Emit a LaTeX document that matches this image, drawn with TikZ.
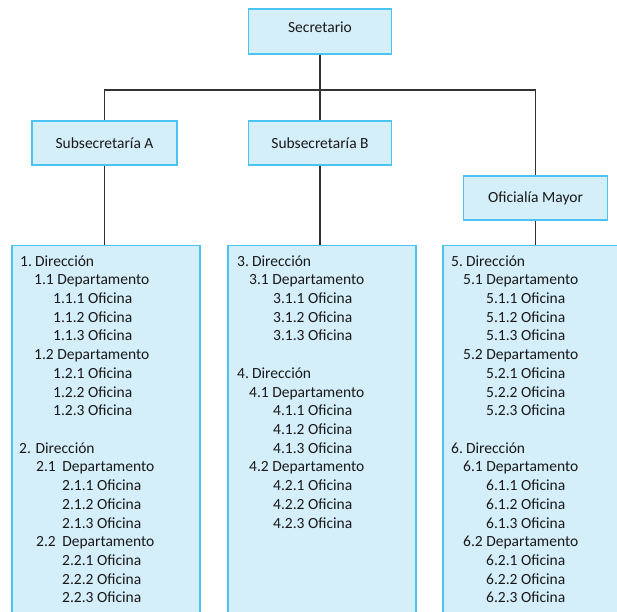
\documentclass[tikz,border=0pt]{standalone}
\usepackage{fontspec}
\setmainfont{Carlito}
\definecolor{boxfill}{HTML}{D4EEFA}
\definecolor{boxline}{HTML}{4CC3F1}
\definecolor{conn}{HTML}{333333}
\tikzset{
  unitbox/.style={draw=boxline, fill=boxfill, line width=1.3pt, inner sep=0pt,
    font=\fontsize{15.5}{18.72}\selectfont, text=black!90},
  bigbox/.style={draw=boxline, fill=boxfill, line width=1.3pt, inner sep=0pt, anchor=north},
  linetxt/.style={anchor=base west, inner sep=0pt, font=\fontsize{15.5}{18.72}\selectfont, text=black!90},
  connector/.style={draw=conn, line width=1.2pt}
}
\begin{document}
\begin{tikzpicture}[x=1pt,y=-1pt]
\useasboundingbox (0,0) rectangle (617,611);
\clip (0,0) rectangle (617,611);
% top boxes
\node[unitbox, minimum width=143, minimum height=45, text depth=8pt] (sec) at (320,31.5) {Secretario};
\node[unitbox, minimum width=145, minimum height=44] (subA) at (104.5,143) {Subsecretaría A};
\node[unitbox, minimum width=143, minimum height=44] (subB) at (320,143) {Subsecretaría B};
\node[unitbox, minimum width=144, minimum height=44] (ofm) at (535.5,198) {Oficialía Mayor};
% bottom boxes
\node[bigbox, minimum width=188, minimum height=400] (colA) at (106,245) {};
\node[bigbox, minimum width=188, minimum height=400] (colB) at (322,245) {};
\node[bigbox, minimum width=188, minimum height=400] (colC) at (537,245) {};
% connectors
\coordinate (j) at (320,90);
\draw[connector] (sec.south) -- (j);
\draw[connector] (j) -| (subA.north);
\draw[connector] (j) -- (subB.north);
\draw[connector] (j) -| (ofm.north);
\draw[connector] (subA.south) -- (subA.south |- colA.north);
\draw[connector] (subB.south) -- (subB.south |- colB.north);
\draw[connector] (ofm.south) -- (ofm.south |- colC.north);
% texts, left column
\foreach \r/\x/\t [count=\i] in {
  0/20/1.\kern-1.5pt{} Dirección,
  1/34/1.1 Departamento,
  2/53/1.1.1 Oficina,
  3/53/1.1.2 Oficina,
  4/53/1.1.3 Oficina,
  5/34/1.2 Departamento,
  6/53/1.2.1 Oficina,
  7/53/1.2.2 Oficina,
  8/53/1.2.3 Oficina,
  10/19/2. Dirección,
  11/36/2.1\kern3pt{} Departamento,
  12/62/2.1.1 Oficina,
  13/62/2.1.2 Oficina,
  14/62/2.1.3 Oficina,
  15/36/2.2\kern3pt{} Departamento,
  16/62/2.2.1 Oficina,
  17/62/2.2.2 Oficina,
  18/62/2.2.3 Oficina}
  \node[linetxt] (a\i) at (\x,266+\r*18.72) {\t};
% middle column
\foreach \r/\x/\t [count=\i] in {
  0/237/3.\kern-1.5pt{} Dirección,
  1/249/3.1 Departamento,
  2/273/3.1.1 Oficina,
  3/273/3.1.2 Oficina,
  4/273/3.1.3 Oficina,
  6/237/4.\kern-1.5pt{} Dirección,
  7/249/4.1 Departamento,
  8/273/4.1.1 Oficina,
  9/273/4.1.2 Oficina,
  10/273/4.1.3 Oficina,
  11/249/4.2 Departamento,
  12/273/4.2.1 Oficina,
  13/273/4.2.2 Oficina,
  14/273/4.2.3 Oficina}
  \node[linetxt] (b\i) at (\x,266+\r*18.72) {\t};
% right column
\foreach \r/\x/\t [count=\i] in {
  0/451/5.\kern-1.5pt{} Dirección,
  1/463/5.1 Departamento,
  2/486/5.1.1 Oficina,
  3/486/5.1.2 Oficina,
  4/486/5.1.3 Oficina,
  5/463/5.2 Departamento,
  6/486/5.2.1 Oficina,
  7/486/5.2.2 Oficina,
  8/486/5.2.3 Oficina,
  10/451/6.\kern-1.5pt{} Dirección,
  11/463/6.1 Departamento,
  12/486/6.1.1 Oficina,
  13/486/6.1.2 Oficina,
  14/486/6.1.3 Oficina,
  15/463/6.2 Departamento,
  16/486/6.2.1 Oficina,
  17/486/6.2.2 Oficina,
  18/486/6.2.3 Oficina}
  \node[linetxt] (c\i) at (\x,266+\r*18.72) {\t};
\end{tikzpicture}
\end{document}
